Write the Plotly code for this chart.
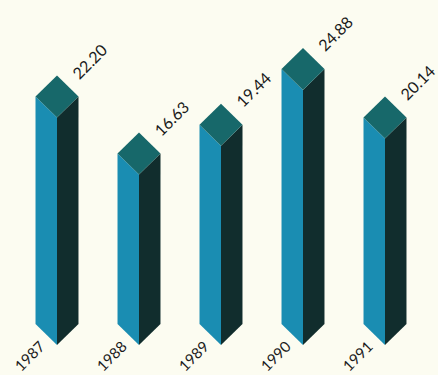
import plotly.graph_objects as go

years = ["1987", "1988", "1989", "1990", "1991"]
values = [22.20, 16.63, 19.44, 24.88, 20.14]
value_labels = ["22.20", "16.63", "19.44", "24.88", "20.14"]

# style / geometry constants (not data)
W = 0.262   # half width of prism in category units
H = 2.05    # half height of top diamond in value units
C_LEFT = "#1a8db2"
C_RIGHT = "#112d2d"
C_TOP = "#17686a"
BG = "#fcfcf1"
FONT = dict(family="Lato, DejaVu Sans, sans-serif", size=16, color="#1a1a1a")
FONT_Y = dict(family="Lato, DejaVu Sans, sans-serif", size=15, color="#1a1a1a")

fig = go.Figure()
for i, v in enumerate(values):
    # left face
    fig.add_trace(go.Scatter(
        x=[i - W, i, i, i - W, i - W], y=[H, 0, v, v + H, H],
        fill="toself", fillcolor=C_LEFT, mode="lines", line=dict(width=0),
        hoverinfo="skip", showlegend=False))
    # right face
    fig.add_trace(go.Scatter(
        x=[i, i + W, i + W, i, i], y=[0, H, v + H, v, 0],
        fill="toself", fillcolor=C_RIGHT, mode="lines", line=dict(width=0),
        hoverinfo="skip", showlegend=False))
    # top face
    fig.add_trace(go.Scatter(
        x=[i, i - W, i, i + W, i], y=[v, v + H, v + 2 * H, v + H, v],
        fill="toself", fillcolor=C_TOP, mode="lines", line=dict(width=0),
        hoverinfo="skip", showlegend=False))
    fig.add_annotation(x=i, y=v + 2 * H, text=value_labels[i], showarrow=False,
                       textangle=-45, xshift=32, yshift=14, font=FONT)
    fig.add_annotation(x=i, y=0, text=years[i], showarrow=False,
                       textangle=-45, xshift=-28, yshift=-11, font=FONT_Y)

fig.update_layout(
    width=438, height=375,
    margin=dict(l=0, r=0, t=0, b=0),
    paper_bgcolor=BG, plot_bgcolor=BG,
    xaxis=dict(range=[-57 / 82, (438 - 57) / 82], visible=False, fixedrange=True),
    yaxis=dict(range=[-30 / 10.25, 345 / 10.25], visible=False, fixedrange=True),
)
fig.write_html("out.html")
